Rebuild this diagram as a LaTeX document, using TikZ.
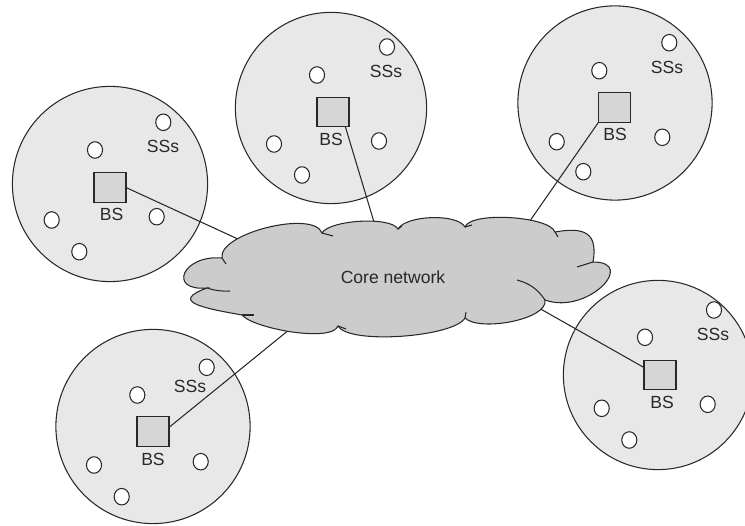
\documentclass[tikz,border=0pt]{standalone}
\usepackage{fontspec}
\setmainfont{Liberation Sans}
\usetikzlibrary{shapes.geometric}

\definecolor{cellfill}{RGB}{232,232,232}
\definecolor{cloudfill}{RGB}{204,204,204}
\definecolor{bsfill}{RGB}{214,214,214}
\definecolor{ink}{RGB}{40,40,40}

\begin{document}
\begin{tikzpicture}[
  x=0.02cm, y=-0.02cm,
  line width=0.6pt,
  % one unit = 0.56693pt
  cell/.style={circle, draw=ink, fill=cellfill, inner sep=0pt, outer sep=0pt,
               minimum size=#1*1.13386pt},
  bs/.style={rectangle, draw=ink, fill=bsfill, inner sep=0pt, outer sep=0pt,
             minimum width=18.2pt, minimum height=16.8pt},
  ss/.style={ellipse, draw=ink, fill=white, inner sep=0pt,
             minimum width=8.6pt, minimum height=9.4pt},
  lbl/.style={inner sep=0pt, text=ink, font=\fontsize{10}{12}\selectfont},
  link/.style={draw=ink, line width=0.6pt},
  core/.style={draw=ink, fill=cloudfill, line width=0.6pt},
]
\useasboundingbox (0,0) rectangle (745,526);
\clip (0,0) rectangle (745,526);

% ---------- cells ----------
\node[cell=98]   (cell1) at (110,184) {};
\node[cell=96]   (cell2) at (331,108) {};
\node[cell=97.5] (cell3) at (615,103) {};
\node[cell=97.5] (cell4) at (153,426.5) {};
\node[cell=95]   (cell5) at (658,375) {};

% ---------- base stations ----------
\node[bs] (bs1) at (110,187.5) {};
\node[bs] (bs2) at (333,112) {};
\node[bs] (bs3) at (614.5,107.5) {};
\node[bs] (bs4) at (153,431.7) {};
\node[bs] (bs5) at (660,375) {};

\node[lbl] (bs1l) at (111.5,214) {BS};
\node[lbl] (bs2l) at (331,139) {BS};
\node[lbl] (bs3l) at (615,134) {BS};
\node[lbl] (bs4l) at (153,459) {BS};
\node[lbl] (bs5l) at (662,402.5) {BS};

% ---------- subscriber stations ----------
\node[ss] (s11) at (163.3,122.3) {};
\node[ss] (s12) at (95,150) {};
\node[ss] (s13) at (51.7,220) {};
\node[ss] (s14) at (156.7,216.7) {};
\node[ss] (s15) at (79.3,251.7) {};
\node[lbl] (ss1l) at (163,146) {SSs};

\node[ss] (s21) at (387,47) {};
\node[ss] (s22) at (317,75) {};
\node[ss] (s23) at (274,144) {};
\node[ss] (s24) at (379,141) {};
\node[ss] (s25) at (302,175) {};
\node[lbl] (ss2l) at (386,71) {SSs};

\node[ss] (s31) at (669.3,42.7) {};
\node[ss] (s32) at (599.3,70.7) {};
\node[ss] (s33) at (556.7,141.7) {};
\node[ss] (s34) at (662.3,137.3) {};
\node[ss] (s35) at (583.3,171.7) {};
\node[lbl] (ss3l) at (667,67.5) {SSs};

\node[ss] (s41) at (206.7,367.3) {};
\node[ss] (s42) at (137.3,395) {};
\node[ss] (s43) at (94,465) {};
\node[ss] (s44) at (200.7,461.7) {};
\node[ss] (s45) at (121.7,496.7) {};
\node[lbl] (ss4l) at (190,386) {SSs};

\node[ss] (s51) at (714,310) {};
\node[ss] (s52) at (645,337.3) {};
\node[ss] (s53) at (601.7,408.3) {};
\node[ss] (s54) at (707.7,404.3) {};
\node[ss] (s55) at (629.3,440) {};
\node[lbl] (ss5l) at (713,334) {SSs};

% ---------- backhaul links (ends hidden under the core cloud) ----------
\coordinate (c1) at (240,240);
\coordinate (c2) at (377,232);
\coordinate (c3) at (525,228);
\coordinate (c4) at (295,325);
\coordinate (c5) at (530,303);

\draw[link] (bs1.east)       -- (c1);
\draw[link] (bs2.-50)        -- (c2);
\draw[link] (bs3.south west) -- (c3);
\draw[link] (bs4.15)         -- (c4);
\draw[link] (bs5.155)        -- (c5);

% ---------- core network cloud ----------
\path[core]
  (207,288) to[out=185,in=175,distance=22.7pt]
  (222,258) to[out=100,in=110,distance=14.2pt]
  (322,233) to[out=60,in=120,distance=8.5pt]
  (398,229) to[out=60,in=120,distance=9.1pt]
  (465,227) to[out=70,in=110,distance=9.6pt]
  (555,232) to[out=10,in=80,distance=17pt]
  (593,262) to[out=0,in=-20,distance=25.5pt]
  (545,300) to[out=-80,in=-45,distance=11.3pt]
  (465,318) to[out=-120,in=-60,distance=12.5pt]
  (338,326) to[out=-110,in=-50,distance=10.2pt]
  (242,315) to[out=170,in=200,distance=22.7pt]
  cycle;

% inner folds of the cloud
\draw[ink] (207,288) to[bend right=10] (230,291);
\draw[ink] (222,258) -- (226,264);
\draw[ink] (322,233) -- (333,236);
\draw[ink] (398,229) -- (402,226);
\draw[ink] (465,227) -- (472,225);
\draw[ink] (555,232) -- (558,237);
\draw[ink] (593,262) -- (577,267);
\draw[ink] (517,280) to[bend left=20] (545,300);
\draw[ink] (465,318) -- (466,312);
\draw[ink] (338,326) -- (346,329);
\draw[ink] (242,315) -- (254,315);

\node[lbl] (corel) at (393,277) {Core network};
\end{tikzpicture}
\end{document}
